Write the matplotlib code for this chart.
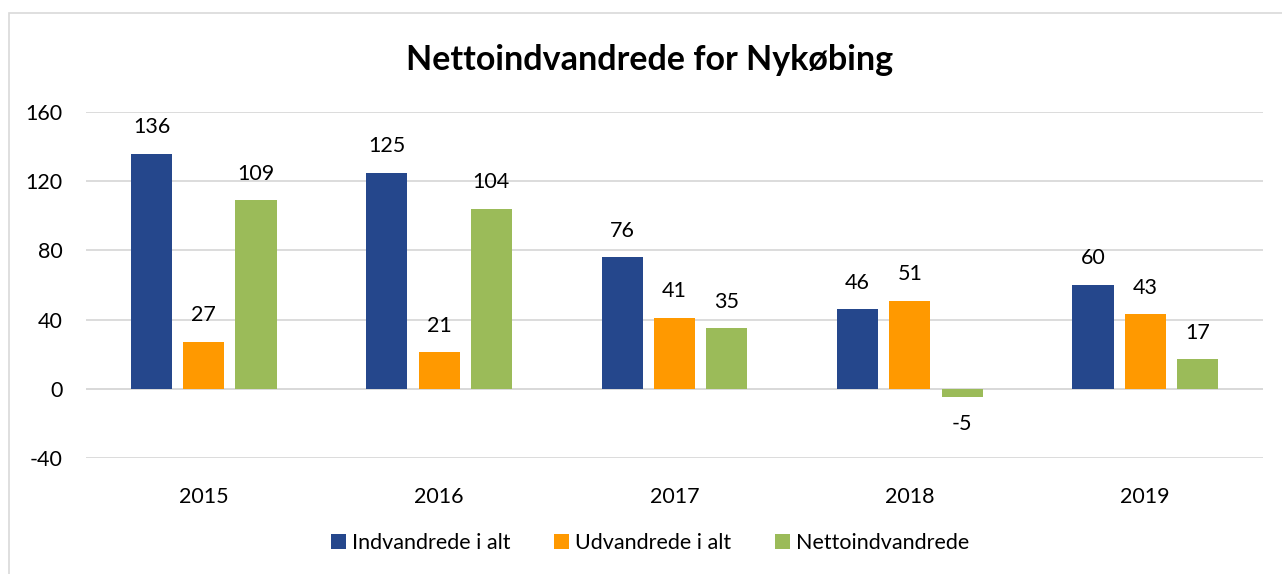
import matplotlib
matplotlib.use("Agg")
import matplotlib.pyplot as plt
from matplotlib.patches import Rectangle
import numpy as np

years = ["2015", "2016", "2017", "2018", "2019"]
indvandrede = [136, 125, 76, 46, 60]
udvandrede = [27, 21, 41, 51, 43]
netto = [109, 104, 35, -5, 17]
series_names = ["Indvandrede i alt", "Udvandrede i alt", "Nettoindvandrede"]
colors = ["#25478C", "#FF9900", "#9BBB59"]
yticks = [-40, 0, 40, 80, 120, 160]

plt.rcParams['font.family'] = ['Lato', 'DejaVu Sans']

W, H = 1282, 574
fig = plt.figure(figsize=(W / 100, H / 100), dpi=100)
ax = fig.add_axes([86 / W, 1 - 458 / H, (1263 - 86) / W, (458 - 112) / H])

# chart border (left + top visible)
fig.patches.append(Rectangle((9 / W, -0.1), 1.2, 1 - 13 / H + 0.1, transform=fig.transFigure,
                             fill=False, edgecolor="#D9D9D9", linewidth=1.2))

FS = 15.5
x = np.arange(len(years))
width = 0.175
offset = 0.222
for i, (vals, name, c) in enumerate(zip([indvandrede, udvandrede, netto], series_names, colors)):
    pos = x + (i - 1) * offset
    ax.bar(pos, vals, width, color=c, label=name, zorder=3)
    for xp, v in zip(pos, vals):
        if v >= 0:
            ax.annotate(str(v), (xp, v), xytext=(0, 12), textcoords="offset points",
                        ha="center", va="bottom", fontsize=FS, color="#000000")
        else:
            ax.annotate(str(v), (xp, v), xytext=(0, -12), textcoords="offset points",
                        ha="center", va="top", fontsize=FS, color="#000000")

ax.set_xlim(-0.5, len(years) - 0.5)
ax.set_ylim(-40, 160)
ax.set_yticks(yticks)
ax.set_yticklabels([str(t) for t in yticks], fontsize=FS)
ax.set_xticks(x)
ax.set_xticklabels(years, fontsize=FS)
ax.tick_params(axis="y", length=0, pad=17)
ax.tick_params(axis="x", length=0, pad=21)
ax.grid(axis="y", color="#D9D9D9", linewidth=1.3, zorder=0)
ax.axhline(0, color="#D9D9D9", linewidth=1.3, zorder=1)
for s in ax.spines.values():
    s.set_visible(False)

fig.text(650 / W, 1 - 60 / H, "Nettoindvandrede for Nykøbing", ha="center", va="center",
         fontsize=24.5, fontweight="bold")

fig.legend(loc="center", bbox_to_anchor=(650 / W, 1 - 543 / H), ncol=3, frameon=False,
           fontsize=FS, handlelength=0.7, handleheight=0.7, handletextpad=0.3,
           columnspacing=2.0)

fig.savefig("out.png", dpi=100, facecolor="white")
